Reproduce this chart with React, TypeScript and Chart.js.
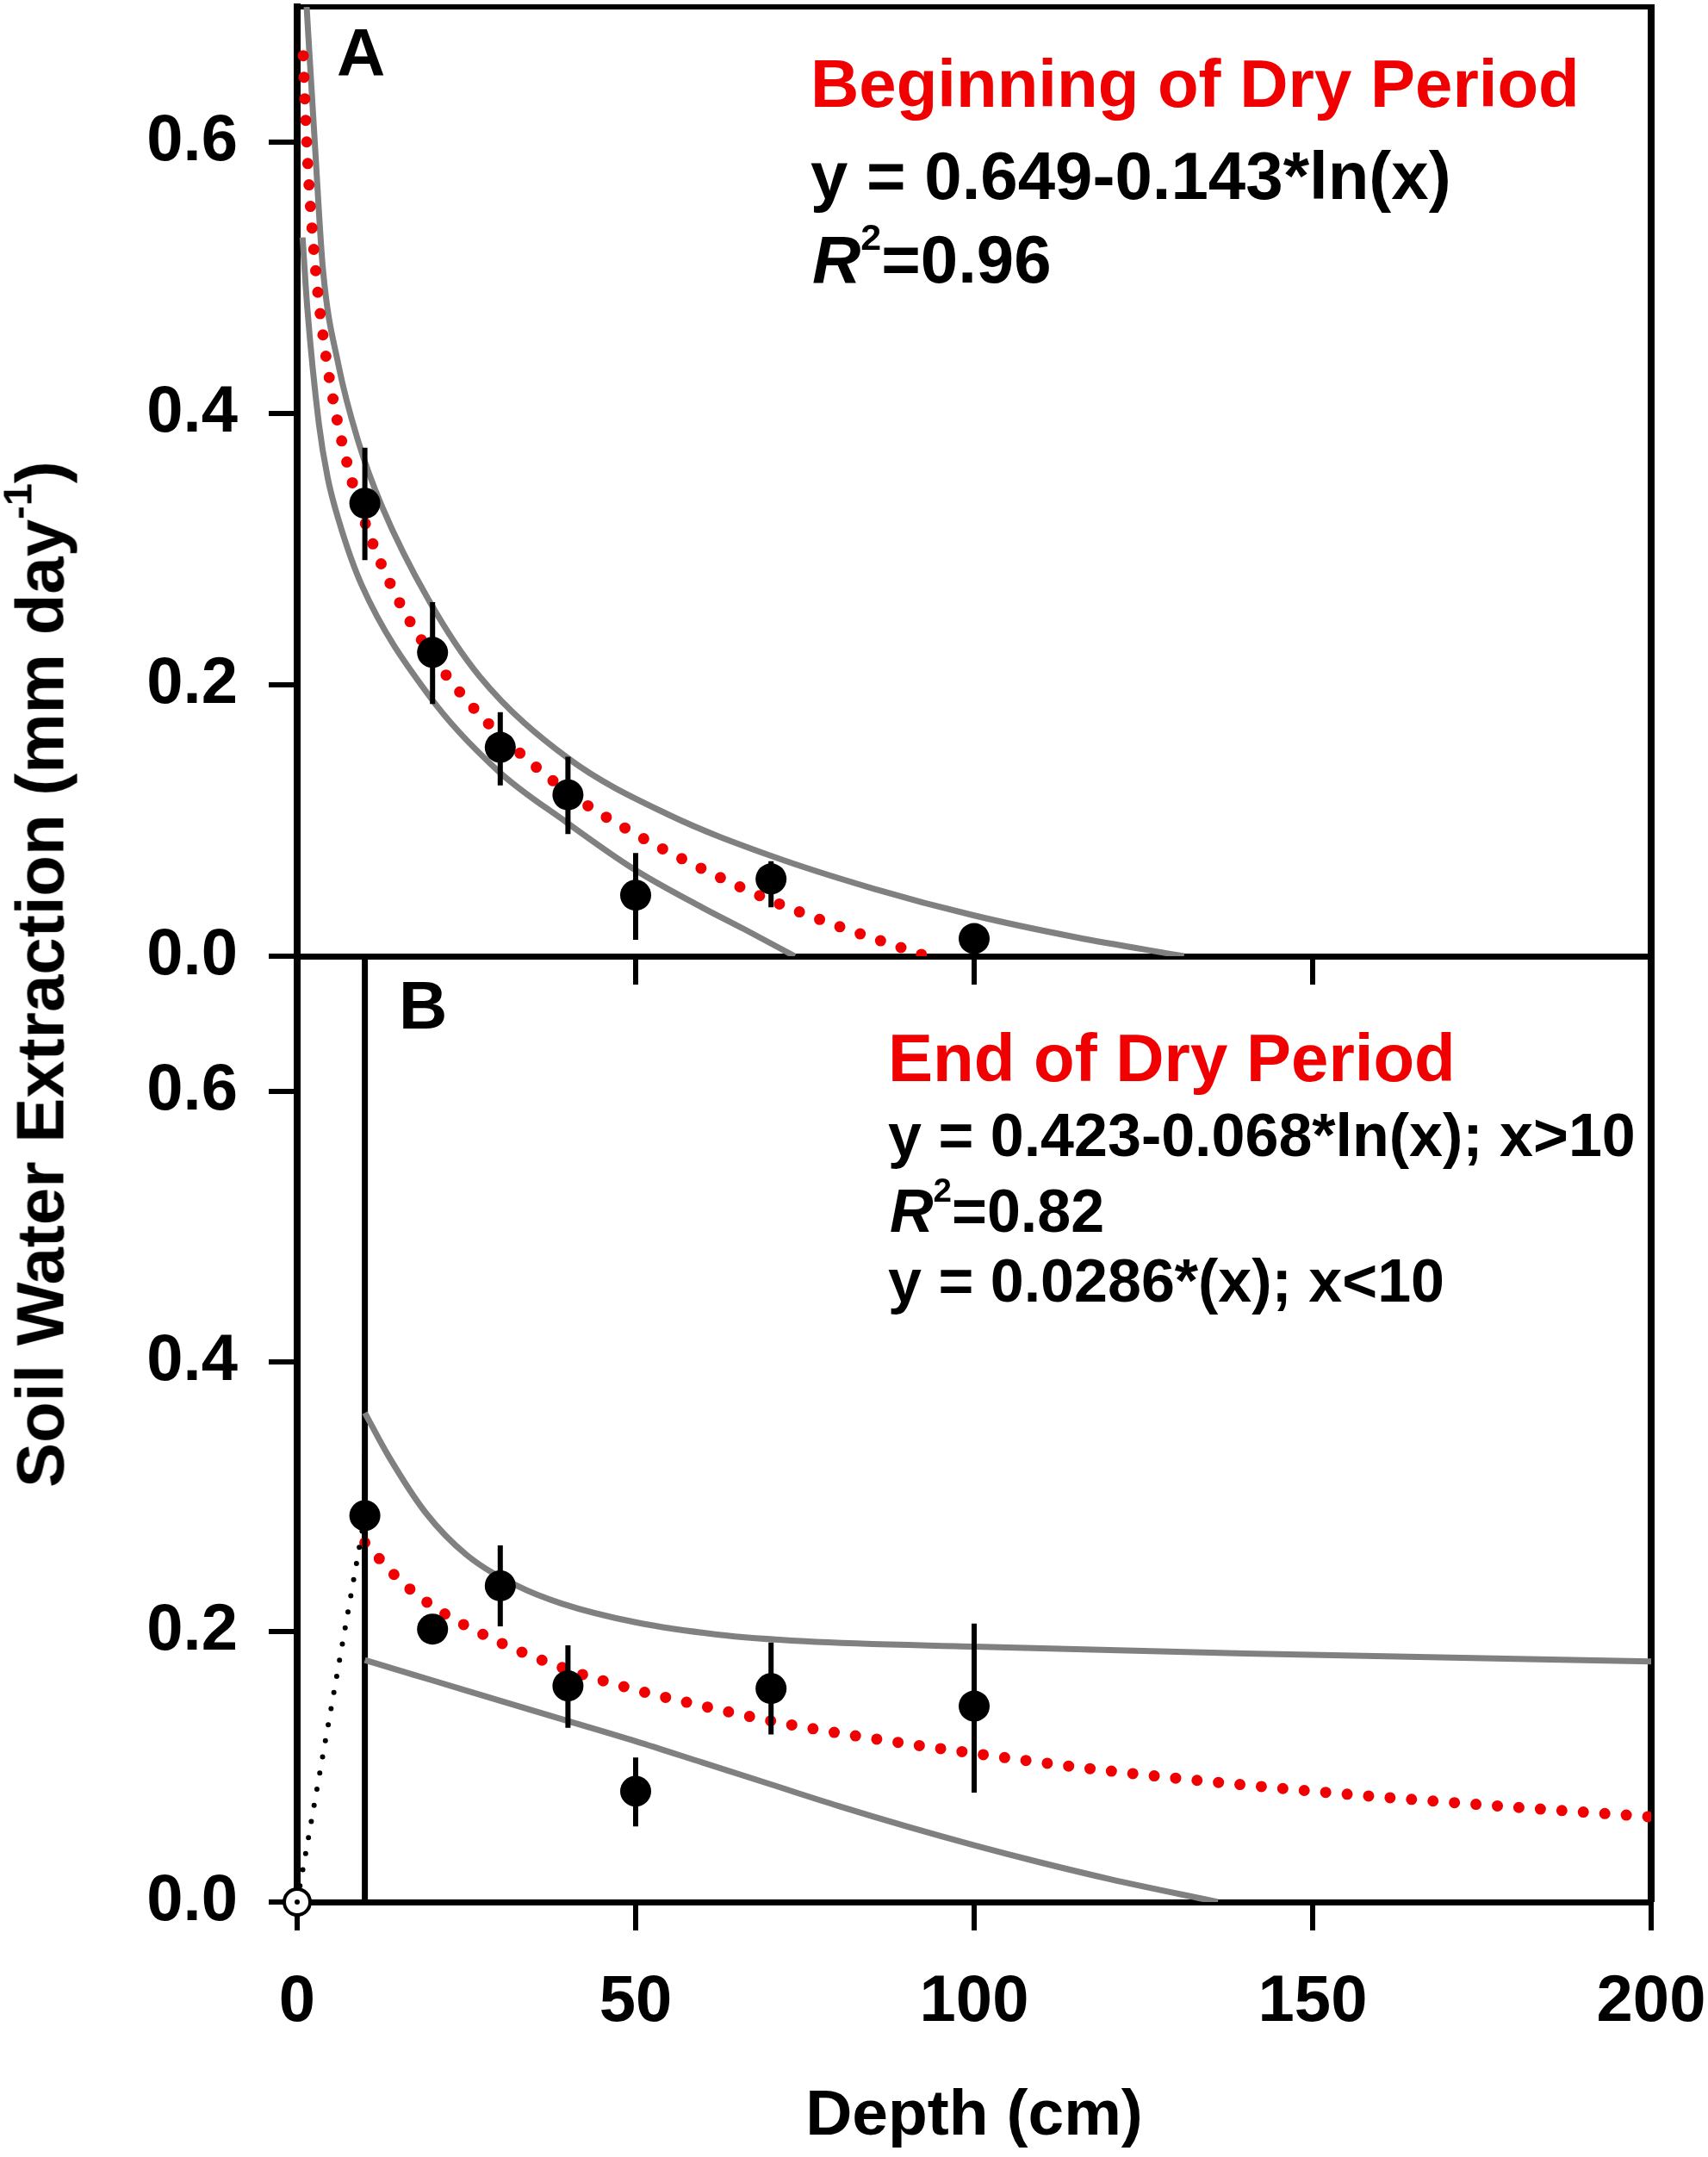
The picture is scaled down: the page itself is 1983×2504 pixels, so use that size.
import { useEffect, useRef } from 'react';
import Chart from 'chart.js/auto';

// ---- measured data (depth in cm, extraction in mm/day) ----
const depthsA = [10, 20, 30, 40, 50, 70, 100];
const meanA = [0.334, 0.224, 0.154, 0.119, 0.045, 0.057, 0.013];
const lowA = [0.292, 0.186, 0.126, 0.09, 0.012, 0.036, 0.008];
const highA = [0.375, 0.261, 0.18, 0.147, 0.076, 0.07, 0.018];

const depthsB = [10, 20, 30, 40, 50, 70, 100];
const meanB = [0.286, 0.202, 0.234, 0.16, 0.082, 0.158, 0.145];
const lowB = [0.241, 0.195, 0.204, 0.129, 0.056, 0.124, 0.081];
const highB = [0.332, 0.209, 0.264, 0.19, 0.107, 0.192, 0.206];

// ---- curves ----
const fitAx = [0.9, 1, 1.5, 2, 3, 4, 5, 7, 10, 15, 20, 25, 30, 40, 50, 60, 70, 80, 93];
const fitAy = [0.664, 0.649, 0.591, 0.55, 0.492, 0.451, 0.419, 0.371, 0.32, 0.262, 0.221, 0.189, 0.163, 0.121, 0.09, 0.064, 0.041, 0.022, 0.0];
const upperAx = [1.4, 2.7, 3.8, 6.1, 9, 12.5, 19.5, 27, 40, 55, 70, 85, 100, 115, 131];
const upperAy = [0.7, 0.592, 0.507, 0.436, 0.38, 0.332, 0.262, 0.206, 0.146, 0.104, 0.074, 0.05, 0.03, 0.014, 0.0];
const lowerAx = [0.8, 1.5, 3.2, 4.5, 6.1, 9.5, 19.5, 29.6, 39.7, 49.8, 59.8, 66, 73.5];
const lowerAy = [0.53, 0.478, 0.393, 0.353, 0.322, 0.274, 0.192, 0.137, 0.099, 0.064, 0.036, 0.02, 0.0];

const fitBx = [10, 15, 20, 30, 40, 50, 60, 70, 80, 100, 120, 150, 175, 200];
const fitBy = [0.266, 0.239, 0.219, 0.192, 0.172, 0.157, 0.145, 0.134, 0.125, 0.11, 0.097, 0.082, 0.072, 0.063];
const upperBx = [10, 13.5, 19, 25, 32.5, 39, 50, 62, 75, 100, 140, 200];
const upperBy = [0.362, 0.33, 0.288, 0.257, 0.234, 0.221, 0.207, 0.198, 0.193, 0.189, 0.184, 0.178];
const lowerBx = [10, 20, 30, 40, 50, 60, 70, 80, 90, 100, 110, 120, 136];
const lowerBy = [0.179, 0.164, 0.149, 0.134, 0.119, 0.103, 0.087, 0.071, 0.056, 0.042, 0.029, 0.017, 0.0];
const linearBx = [0, 10];
const linearBy = [0, 0.286];
const cutoffX = [10, 10];
const cutoffY = [0, 0.7];
const originX = [0];
const originY = [0];

const xTicks = [0, 50, 100, 150, 200];
const yTicks = [0, 0.2, 0.4, 0.6];

const FONT = '"Liberation Sans", Arial, Helvetica, sans-serif';
const W = 1983;
const RED = '#f00000';
const GRAY = '#808080';

const pts = (xs: number[], ys: number[]) => xs.map((x, i) => ({ x, y: ys[i] }));

function errorBars(xs: number[], lo: number[], hi: number[]) {
  const out: any[] = [];
  xs.forEach((x, i) => {
    out.push({ x, y: lo[i] }, { x, y: hi[i] }, { x, y: null });
  });
  return out;
}

const curve = (xs: number[], ys: number[], color: string, width: number, dash?: number[]) => ({
  data: pts(xs, ys),
  showLine: true,
  borderColor: color,
  borderWidth: width,
  borderDash: dash || [],
  borderCapStyle: dash ? 'round' : 'butt',
  cubicInterpolationMode: 'monotone',
  pointRadius: 0,
});

const markers = (xs: number[], ys: number[]) => ({
  data: pts(xs, ys),
  showLine: false,
  pointRadius: 18,
  pointBackgroundColor: '#000',
  pointBorderWidth: 0,
});

const bars = (xs: number[], lo: number[], hi: number[]) => ({
  data: errorBars(xs, lo, hi),
  showLine: true,
  spanGaps: false,
  borderColor: '#000',
  borderWidth: 6,
  pointRadius: 0,
});

function datasetsA() {
  return [
    markers(depthsA, meanA),
    bars(depthsA, lowA, highA),
    curve(fitAx, fitAy, RED, 13, [0, 25]),
    curve(upperAx, upperAy, GRAY, 7),
    curve(lowerAx, lowerAy, GRAY, 7),
  ];
}

function datasetsB() {
  return [
    { data: pts(originX, originY), showLine: false, pointRadius: 3, pointBackgroundColor: '#000', pointBorderWidth: 0, clip: false },
    { data: pts(originX, originY), showLine: false, pointRadius: 15, pointBackgroundColor: '#fff', pointBorderColor: '#000', pointBorderWidth: 4, clip: false },
    markers(depthsB, meanB),
    bars(depthsB, lowB, highB),
    curve(linearBx, linearBy, '#000', 6, [0, 19]),
    curve(fitBx, fitBy, RED, 13, [0, 25]),
    curve(upperBx, upperBy, GRAY, 7),
    curve(lowerBx, lowerBy, GRAY, 7),
    { ...curve(cutoffX, cutoffY, '#000', 7), cubicInterpolationMode: 'default' },
  ];
}

// right border (and top border for panel A)
const frame = (withTop: boolean) => ({
  id: 'frame',
  beforeDatasetsDraw(chart: any) {
    const { ctx, chartArea } = chart;
    ctx.save();
    ctx.strokeStyle = '#000';
    ctx.lineWidth = 8;
    ctx.beginPath();
    ctx.moveTo(chartArea.right, chartArea.top - (withTop ? 3 : 0));
    ctx.lineTo(chartArea.right, chartArea.bottom);
    ctx.stroke();
    if (withTop) {
      ctx.lineWidth = 6;
      ctx.beginPath();
      ctx.moveTo(chartArea.left, chartArea.top);
      ctx.lineTo(chartArea.right, chartArea.top);
      ctx.stroke();
    }
    ctx.restore();
  },
});

function buildOptions(bottomPanel: boolean) {
  const tickFont = { family: FONT, size: 76, weight: 'bold' as const };
  return {
    animation: false as const,
    responsive: false,
    devicePixelRatio: 1,
    events: [],
    layout: { autoPadding: false, padding: { left: 0, right: 66, top: bottomPanel ? 50 : 8, bottom: 0 } },
    plugins: { legend: { display: false }, tooltip: { enabled: false } },
    scales: {
      x: {
        type: 'linear' as const,
        min: 0,
        max: 200,
        afterBuildTicks: (s: any) => {
          s.ticks = xTicks.map((v) => ({ value: v }));
        },
        afterFit: (s: any) => {
          s.height = bottomPanel ? 296 : 40;
          s.paddingLeft = 0;
          s.paddingRight = 0;
        },
        grid: { drawOnChartArea: false, drawTicks: true, tickLength: 33, color: '#000', lineWidth: 6 },
        border: { display: true, color: '#000', width: 7 },
        ticks: {
          display: bottomPanel,
          padding: 38,
          autoSkip: false,
          maxRotation: 0,
          minRotation: 0,
          color: '#000',
          font: tickFont,
          callback: (v: any) => String(v),
        },
        title: {
          display: bottomPanel,
          text: 'Depth (cm)',
          color: '#000',
          font: { family: FONT, size: 75, weight: 'bold' as const },
          padding: { top: 0, bottom: 2 },
        },
      },
      y: {
        type: 'linear' as const,
        min: 0,
        max: 0.7,
        afterBuildTicks: (s: any) => {
          s.ticks = yTicks.map((v) => ({ value: v }));
        },
        afterFit: (s: any) => {
          s.width = 345;
          s.paddingTop = 0;
          s.paddingBottom = 0;
        },
        grid: { drawOnChartArea: false, drawTicks: true, tickLength: 33, color: '#000', lineWidth: 6 },
        border: { display: true, color: '#000', width: 8 },
        ticks: {
          padding: 36,
          color: '#000',
          font: tickFont,
          callback: (v: any) => Number(v).toFixed(1),
        },
      },
    },
  };
}

function Panel({ top, height, bottomPanel }: { top: number; height: number; bottomPanel: boolean }) {
  const ref = useRef<HTMLCanvasElement>(null);

  useEffect(() => {
    if (!ref.current) return;
    const chart = new Chart(ref.current, {
      type: 'scatter',
      data: { datasets: (bottomPanel ? datasetsB() : datasetsA()) as any },
      options: buildOptions(bottomPanel) as any,
      plugins: [frame(!bottomPanel)],
    });
    return () => chart.destroy();
  }, [bottomPanel]);

  return (
    <canvas
      ref={ref}
      width={W}
      height={height}
      style={{ position: 'absolute', left: 0, top, width: W, height }}
    />
  );
}

// text placed by its baseline
function Label({ left, baseline, size, color = '#000', children }: any) {
  return (
    <div
      style={{
        position: 'absolute',
        left,
        top: baseline - 0.8465 * size,
        fontFamily: FONT,
        fontWeight: 'bold',
        fontSize: size,
        lineHeight: `${size}px`,
        color,
        whiteSpace: 'nowrap',
      }}
    >
      {children}
    </div>
  );
}

function RSquared({ size, value }: { size: number; value: string }) {
  return (
    <>
      <i>R</i>
      <span style={{ fontSize: size * 0.55, position: 'relative', top: -size * 0.49 }}>2</span>=
      {value}
    </>
  );
}

export default function App() {
  return (
    <div style={{ position: 'absolute', left: 0, top: 0, width: W, height: 2504, background: '#fff', overflow: 'hidden' }}>
      <Panel top={0} height={1150} bottomPanel={false} />
      <Panel top={1060} height={1444} bottomPanel={true} />

      <div
        style={{
          position: 'absolute',
          left: 52,
          top: 1131,
          transform: 'translate(-50%, -50%) rotate(-90deg)',
          fontFamily: FONT,
          fontWeight: 'bold',
          fontSize: 78,
          lineHeight: '78px',
          whiteSpace: 'nowrap',
          color: '#000',
        }}
      >
        Soil Water Extraction (mm day
        <span style={{ fontSize: 47, position: 'relative', top: -37 }}>-1</span>)
      </div>

      <Label left={391} baseline={88} size={78}>A</Label>
      <Label left={941} baseline={124} size={78} color={RED}>Beginning of Dry Period</Label>
      <Label left={941} baseline={231} size={78}>y = 0.649-0.143*ln(x)</Label>
      <Label left={943} baseline={328} size={78}>
        <RSquared size={78} value="0.96" />
      </Label>

      <Label left={463} baseline={1194} size={78}>B</Label>
      <Label left={1031} baseline={1255} size={78} color={RED}>End of Dry Period</Label>
      <Label left={1031} baseline={1342} size={70}>y = 0.423-0.068*ln(x); x&gt;10</Label>
      <Label left={1033} baseline={1430} size={70}>
        <RSquared size={70} value="0.82" />
      </Label>
      <Label left={1031} baseline={1511} size={70}>y = 0.0286*(x); x&lt;10</Label>
    </div>
  );
}
